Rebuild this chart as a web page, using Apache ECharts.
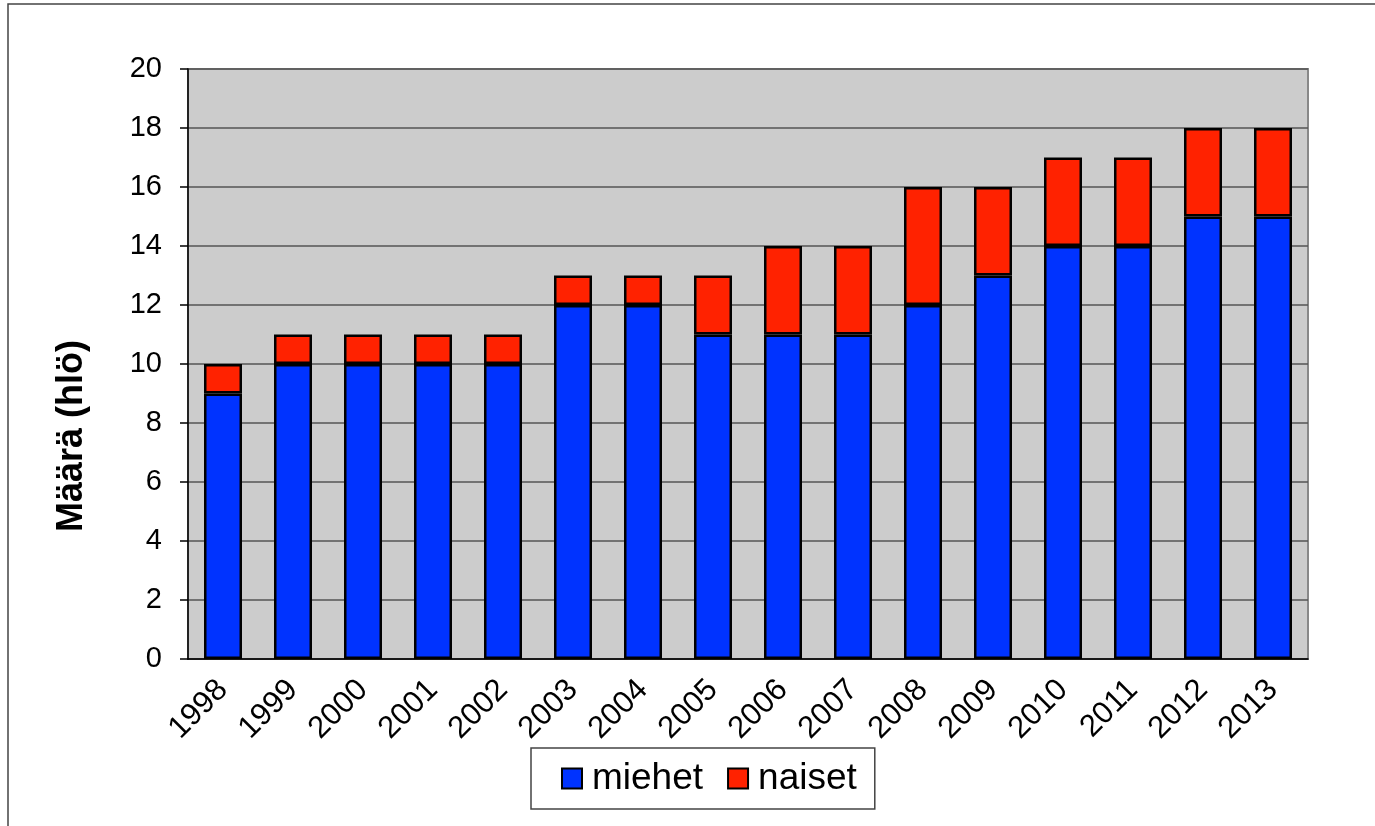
<!DOCTYPE html>
<html lang="fi">
<head>
	<meta charset="UTF-8">
	<title>Määrä (hlö) 1998-2013</title>
	<script src="https://cdn.jsdelivr.net/npm/echarts@6/dist/echarts.min.js"></script>
	<style>
		html, body { margin: 0; padding: 0; background: #fff; }
	</style>
</head>
<body>
	<div id="main" style="width: 1375px;height: 826px;"></div>

	<script>
		var years = ['1998', '1999', '2000', '2001', '2002', '2003', '2004', '2005',
			'2006', '2007', '2008', '2009', '2010', '2011', '2012', '2013'];
		var miehet = [9, 10, 10, 10, 10, 12, 12, 11, 11, 11, 12, 13, 14, 14, 15, 15];
		var naiset = [1, 1, 1, 1, 1, 1, 1, 2, 3, 3, 4, 3, 3, 3, 3, 3];

		var chartDom = document.getElementById('main');
		var myChart = echarts.init(chartDom);
		var font = 'Liberation Sans, Arial, sans-serif';

		var option = {
			animation: false,
			textStyle: { fontFamily: font },
			graphic: [{
				type: 'rect',
				shape: { x: 8, y: 4, width: 1420, height: 900 },
				style: { fill: 'none', stroke: '#444', lineWidth: 1.5 }
			}],
			grid: {
				left: 188,
				top: 69,
				right: 67,
				bottom: 167,
				show: true,
				backgroundColor: '#cccccc',
				borderColor: '#888',
				borderWidth: 2
			},
			legend: {
				left: 531,
				top: 748,
				padding: [10, 18, 10, 30],
				borderColor: '#444',
				borderWidth: 1.5,
				backgroundColor: '#fff',
				itemWidth: 20,
				itemHeight: 20,
				itemGap: 24,
				icon: 'rect',
				textStyle: {
					fontSize: 37,
					lineHeight: 41,
					color: '#000',
					fontFamily: font,
					padding: [0, 0, 0, 5]
				},
				data: ['miehet', 'naiset']
			},
			xAxis: {
				type: 'category',
				data: years,
				axisLine: { lineStyle: { color: '#000', width: 1.5 } },
				axisTick: { length: 8, lineStyle: { color: '#000', width: 1.5 } },
				axisLabel: {
					rotate: 45,
					fontSize: 31,
					color: '#000',
					margin: 26
				}
			},
			yAxis: {
				type: 'value',
				min: 0,
				max: 20,
				interval: 2,
				name: 'Määrä (hlö)',
				nameLocation: 'middle',
				nameGap: 98,
				nameTextStyle: {
					fontSize: 36,
					fontWeight: 'bold',
					color: '#000',
					padding: [0, 144, 0, 0]
				},
				axisLine: { show: true, lineStyle: { color: '#000', width: 1.5 } },
				axisTick: { show: true, length: 8, lineStyle: { color: '#000', width: 1.5 } },
				axisLabel: { fontSize: 29, color: '#000', margin: 26 },
				splitLine: { lineStyle: { color: '#555', width: 1.5 } }
			},
			series: [{
				name: 'miehet',
				type: 'bar',
				stack: 'total',
				barWidth: 38,
				data: miehet,
				itemStyle: { color: '#0033ff', borderColor: '#000', borderWidth: 2.5 }
			}, {
				name: 'naiset',
				type: 'bar',
				stack: 'total',
				barWidth: 38,
				data: naiset,
				itemStyle: { color: '#ff2200', borderColor: '#000', borderWidth: 2.5 }
			}]
		};

		myChart.setOption(option);
	</script>
</body>
</html>
